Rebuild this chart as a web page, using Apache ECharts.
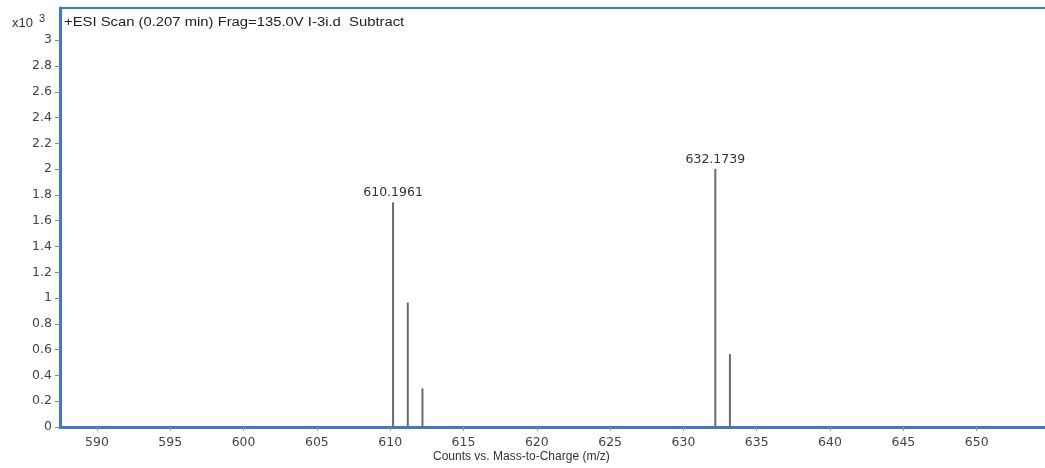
<!DOCTYPE html>
<html>
<head>
<meta charset="utf-8">
<script src="https://cdn.jsdelivr.net/npm/echarts@6/dist/echarts.min.js"></script>
<style>
html,body{margin:0;padding:0;background:#fff;}
#c{width:1045px;height:468px;}
</style>
</head>
<body>
<div id="c"></div>
<script>
// Data (intensity in x10^3 counts)
const mzValues = [610.1961, 611.20, 612.20, 632.1739, 633.17];
const intensities = [1.743, 0.966, 0.30, 2.003, 0.565];
const peakLabels = ['610.1961', '', '', '632.1739', ''];
const xTickValues = [590, 595, 600, 605, 610, 615, 620, 625, 630, 635, 640, 645, 650];
const yTickValues = [0, 0.2, 0.4, 0.6, 0.8, 1, 1.2, 1.4, 1.6, 1.8, 2, 2.2, 2.4, 2.6, 2.8, 3];
const titleText = '+ESI Scan (0.207 min) Frag=135.0V I-3i.d  Subtract';
const xAxisTitle = 'Counts vs. Mass-to-Charge (m/z)';

const FONT = '"Liberation Sans", Arial, sans-serif';
const NUMFONT = '"DejaVu Sans", sans-serif';
const BLUE = '#3b78d8';

const chart = echarts.init(document.getElementById('c'), null, {renderer: 'canvas'});
const data = mzValues.map((m, i) => ({
  value: [m, intensities[i]],
  label: {show: !!peakLabels[i], formatter: peakLabels[i]}
}));

chart.setOption({
  animation: false,
  backgroundColor: '#fff',
  grid: {left: 60, right: 0, top: 8, bottom: 41, containLabel: false},
  xAxis: [{
    type: 'value', min: 587.48, max: 654.66,
    axisLine: {show: true, lineStyle: {color: BLUE, width: 3}},
    axisTick: {show: true, length: 4, lineStyle: {color: '#999', width: 1}, customValues: xTickValues},
    axisLabel: {color: '#444', fontFamily: NUMFONT, fontSize: 12.5, margin: 9, customValues: xTickValues},
    splitLine: {show: false}
  }, {
    type: 'value', position: 'top', min: 587.48, max: 654.66,
    axisLine: {show: true, lineStyle: {color: BLUE, width: 2}},
    axisTick: {show: false}, axisLabel: {show: false}, splitLine: {show: false}
  }],
  yAxis: {
    type: 'value', min: 0, max: 3.25,
    axisLine: {show: true, lineStyle: {color: BLUE, width: 3}},
    axisTick: {show: true, length: 5, lineStyle: {color: '#888', width: 1}, customValues: yTickValues},
    axisLabel: {color: '#444', fontFamily: NUMFONT, fontSize: 12.5, margin: 8, customValues: yTickValues,
      formatter: v => (Math.round(v * 10) / 10).toString()},
    splitLine: {show: false}
  },
  series: [{
    type: 'bar', xAxisIndex: 0, barWidth: 2, data: data,
    itemStyle: {color: '#6b6b6b'},
    label: {position: 'top', distance: 3, color: '#333', fontFamily: NUMFONT, fontSize: 12.5}
  }],
  graphic: [
    {type: 'text', x: 64, y: 23, scaleX: 1.235,
      style: {text: titleText, font: '12px ' + FONT, fill: '#222', verticalAlign: 'middle'}},
    {type: 'text', x: 12, y: 23, style: {text: 'x10', font: '13px ' + FONT, fill: '#333', verticalAlign: 'middle'}},
    {type: 'text', x: 39, y: 19, style: {text: '3', font: '11px ' + FONT, fill: '#333', verticalAlign: 'middle'}},
    {type: 'text', x: 433, y: 457, style: {text: xAxisTitle, font: '12px ' + FONT, fill: '#333', verticalAlign: 'middle'}}
  ]
});
</script>
</body>
</html>
